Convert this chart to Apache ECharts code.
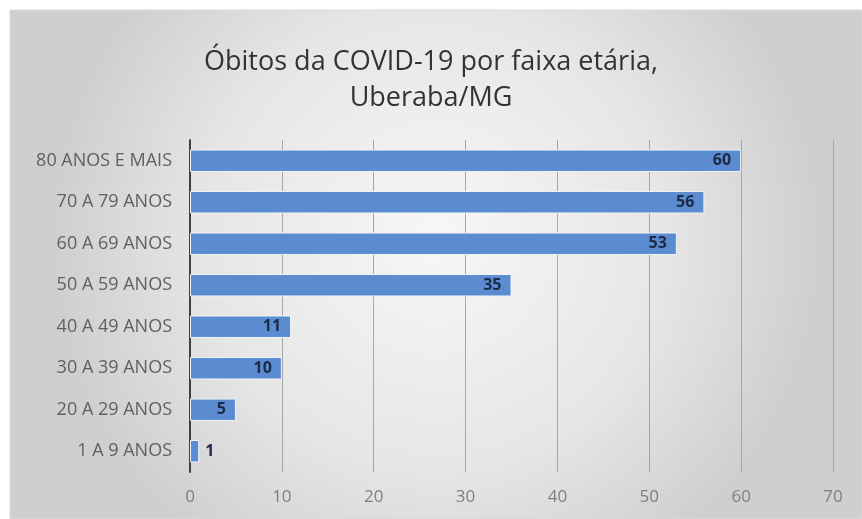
<!DOCTYPE html>
<html><head><meta charset="utf-8">
<script src="https://cdn.jsdelivr.net/npm/echarts@6/dist/echarts.min.js"></script>
<style>html,body{margin:0;padding:0;background:#fff;}#c{width:862px;height:519px;}</style>
</head><body><div id="c"></div>
<script>
const titleText = 'Óbitos da COVID-19 por faixa etária,\nUberaba/MG';
const categories = ['1 A 9 ANOS','20 A 29 ANOS','30 A 39 ANOS','40 A 49 ANOS','50 A 59 ANOS','60 A 69 ANOS','70 A 79 ANOS','80 ANOS E MAIS'];
const values = [1, 5, 10, 11, 35, 53, 56, 60];
const xTicks = [0, 10, 20, 30, 40, 50, 60, 70];

const chart = echarts.init(document.getElementById('c'));
const font = '"Open Sans", "Noto Sans", sans-serif';
chart.setOption({
  animation: false,
  graphic: [{
    type: 'rect', z: -10, silent: true,
    shape: {x: 10, y: 10, width: 852, height: 509},
    style: {
      fill: new echarts.graphic.RadialGradient(0.5, 0.45, 0.75, [
        {offset: 0, color: '#f7f7f7'},
        {offset: 0.6, color: '#e6e6e6'},
        {offset: 1, color: '#cfcfcf'}
      ]),
      stroke: '#d9d9d9', lineWidth: 1
    }
  }],
  title: {
    text: titleText, left: 'center', top: 39,
    textStyle: {fontFamily: font, fontSize: 27, fontWeight: 'normal', color: '#333333', lineHeight: 36}
  },
  grid: {left: 190, right: 29, top: 140, bottom: 47, containLabel: false},
  xAxis: {
    type: 'value', min: xTicks[0], max: xTicks[xTicks.length - 1], interval: 10,
    axisLine: {show: false}, axisTick: {show: false},
    axisLabel: {fontFamily: font, fontSize: 17, color: '#7f7f7f', margin: 17},
    splitLine: {show: true, lineStyle: {color: '#a6a6a6', width: 1}}
  },
  yAxis: {
    type: 'category', data: categories,
    axisLine: {show: true, lineStyle: {color: '#404040', width: 2}},
    axisTick: {show: false},
    axisLabel: {fontFamily: font, fontSize: 18, color: '#606060', margin: 18}
  },
  series: [{
    type: 'bar', barWidth: '54%',
    data: values.map(v => v < 3 ? {value: v, label: {position: 'right', distance: 6}} : v),
    itemStyle: {color: '#5b8bd0', borderColor: '#eef3fb', borderWidth: 1},
    label: {show: true, position: 'insideRight', distance: 10, fontFamily: font, fontSize: 16, fontWeight: 'bold', color: '#1c2a45'}
  }]
});
</script></body></html>
